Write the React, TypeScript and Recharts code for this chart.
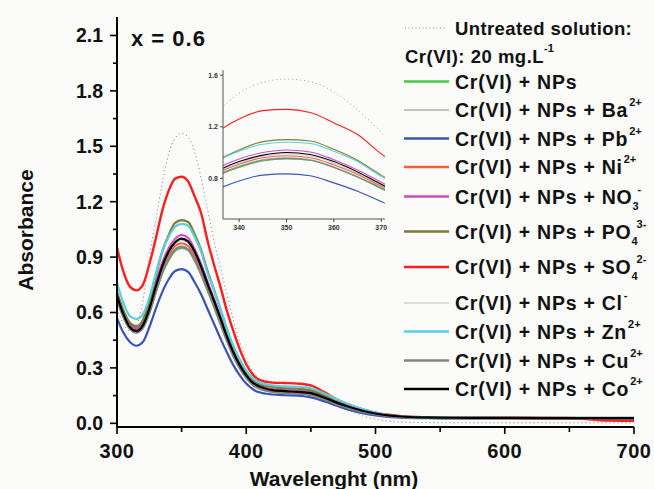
import React from "react";
import { LineChart, Line, XAxis, YAxis } from "recharts";

// wavelength grid (nm)
const wavelength = [300, 305, 310, 315, 320, 325, 330, 335, 340, 345, 350, 355, 360, 365, 370, 375, 380, 385, 390, 395, 400, 405, 410, 420, 430, 440, 450, 460, 470, 480, 490, 500, 510, 520, 540, 560, 600, 650, 680, 700];

// absorbance
const untreated = [0.62, 0.54, 0.5, 0.53, 0.66, 0.9, 1.1, 1.3, 1.46, 1.545, 1.57, 1.55, 1.47, 1.33, 1.16, 0.99, 0.84, 0.7, 0.56, 0.44, 0.35, 0.28, 0.245, 0.225, 0.22, 0.215, 0.2, 0.16, 0.11, 0.07, 0.04, 0.022, 0.012, 0.006, 0.004, 0.003, 0.003, 0.003, 0.003, 0.003];
const nps = [0.7, 0.59, 0.52, 0.505, 0.525, 0.6, 0.71, 0.815, 0.885, 0.935, 0.95, 0.94, 0.885, 0.81, 0.72, 0.635, 0.54, 0.45, 0.366, 0.3, 0.248, 0.21, 0.19, 0.172, 0.166, 0.163, 0.155, 0.133, 0.106, 0.083, 0.064, 0.05, 0.041, 0.035, 0.031, 0.029, 0.028, 0.028, 0.028, 0.028];
const ba = [0.66, 0.57, 0.51, 0.495, 0.52, 0.6, 0.715, 0.82, 0.895, 0.945, 0.96, 0.945, 0.89, 0.815, 0.73, 0.64, 0.545, 0.452, 0.368, 0.302, 0.25, 0.212, 0.192, 0.174, 0.168, 0.165, 0.157, 0.135, 0.107, 0.084, 0.065, 0.051, 0.041, 0.035, 0.031, 0.029, 0.028, 0.028, 0.028, 0.028];
const pb = [0.57, 0.49, 0.44, 0.42, 0.44, 0.52, 0.62, 0.71, 0.78, 0.825, 0.835, 0.82, 0.765, 0.7, 0.62, 0.54, 0.46, 0.385, 0.315, 0.26, 0.215, 0.185, 0.168, 0.156, 0.152, 0.15, 0.14, 0.12, 0.095, 0.072, 0.055, 0.043, 0.035, 0.031, 0.028, 0.027, 0.027, 0.026, 0.026, 0.026];
const ni = [0.68, 0.58, 0.515, 0.5, 0.525, 0.61, 0.725, 0.835, 0.91, 0.96, 0.975, 0.96, 0.905, 0.83, 0.74, 0.65, 0.555, 0.46, 0.375, 0.307, 0.254, 0.216, 0.196, 0.178, 0.172, 0.168, 0.16, 0.138, 0.11, 0.086, 0.066, 0.052, 0.042, 0.036, 0.031, 0.029, 0.028, 0.028, 0.028, 0.028];
const no3 = [0.7, 0.6, 0.535, 0.515, 0.545, 0.64, 0.76, 0.87, 0.95, 1.0, 1.02, 1.005, 0.945, 0.865, 0.77, 0.675, 0.58, 0.475, 0.39, 0.32, 0.265, 0.225, 0.205, 0.186, 0.18, 0.177, 0.169, 0.145, 0.116, 0.09, 0.07, 0.054, 0.043, 0.037, 0.032, 0.03, 0.029, 0.028, 0.028, 0.028];
const po4 = [0.71, 0.61, 0.545, 0.525, 0.56, 0.66, 0.8, 0.93, 1.02, 1.085, 1.1, 1.09, 1.025, 0.94, 0.825, 0.725, 0.62, 0.51, 0.415, 0.34, 0.28, 0.238, 0.215, 0.197, 0.19, 0.187, 0.178, 0.153, 0.122, 0.095, 0.073, 0.056, 0.044, 0.037, 0.032, 0.03, 0.029, 0.029, 0.029, 0.029];
const so4 = [0.95, 0.82, 0.74, 0.72, 0.75, 0.86, 1.0, 1.15, 1.26, 1.325, 1.335, 1.31, 1.23, 1.14, 0.99, 0.86, 0.74, 0.61, 0.5, 0.4, 0.32, 0.265, 0.235, 0.22, 0.218, 0.215, 0.205, 0.17, 0.13, 0.1, 0.075, 0.058, 0.046, 0.038, 0.032, 0.03, 0.03, 0.029, 0.015, 0.014];
const cl = [0.69, 0.59, 0.52, 0.505, 0.53, 0.615, 0.73, 0.84, 0.92, 0.97, 0.99, 0.975, 0.92, 0.84, 0.75, 0.66, 0.565, 0.468, 0.38, 0.312, 0.258, 0.22, 0.2, 0.181, 0.175, 0.171, 0.163, 0.14, 0.112, 0.087, 0.067, 0.052, 0.042, 0.036, 0.031, 0.029, 0.028, 0.028, 0.028, 0.028];
const zn = [0.76, 0.65, 0.58, 0.565, 0.59, 0.68, 0.81, 0.93, 1.01, 1.065, 1.08, 1.07, 1.01, 0.93, 0.815, 0.72, 0.62, 0.51, 0.42, 0.345, 0.285, 0.245, 0.222, 0.205, 0.2, 0.198, 0.19, 0.163, 0.13, 0.1, 0.077, 0.058, 0.045, 0.038, 0.033, 0.031, 0.03, 0.03, 0.03, 0.03];
const cu = [0.67, 0.575, 0.51, 0.49, 0.515, 0.595, 0.71, 0.815, 0.89, 0.94, 0.955, 0.94, 0.885, 0.81, 0.725, 0.635, 0.54, 0.448, 0.364, 0.298, 0.246, 0.208, 0.188, 0.17, 0.164, 0.161, 0.153, 0.131, 0.104, 0.081, 0.062, 0.049, 0.039, 0.033, 0.029, 0.027, 0.026, 0.026, 0.026, 0.026];
const co = [0.69, 0.59, 0.52, 0.5, 0.53, 0.62, 0.74, 0.85, 0.93, 0.98, 1.0, 0.985, 0.93, 0.85, 0.755, 0.665, 0.57, 0.47, 0.385, 0.315, 0.26, 0.22, 0.2, 0.18, 0.174, 0.17, 0.163, 0.14, 0.112, 0.088, 0.068, 0.053, 0.043, 0.037, 0.032, 0.03, 0.029, 0.028, 0.028, 0.028];

const yTicks = [0, 0.15, 0.3, 0.45, 0.6, 0.75, 0.9, 1.05, 1.2, 1.35, 1.5, 1.65, 1.8, 1.95, 2.1];
const xTicks = [300, 350, 400, 450, 500, 550, 600, 650, 700];
const insetYTicks = [0.8, 1.2, 1.6];
const insetXTicks = [340, 350, 360, 370];

const rows = wavelength.map((w, i) => ({
  w,
  untreated: untreated[i],
  nps: nps[i],
  ba: ba[i],
  pb: pb[i],
  ni: ni[i],
  no3: no3[i],
  po4: po4[i],
  so4: so4[i],
  cl: cl[i],
  zn: zn[i],
  cu: cu[i],
  co: co[i],
}));

type Series = { key: string; label: string; sub?: string; sup?: string; color: string; width: number };

const series: Series[] = [
  { key: "nps", label: "Cr(VI) + NPs", color: "#4ec34a", width: 2.2 },
  { key: "ba", label: "Cr(VI) + NPs + Ba", sup: "2+", color: "#8a8a8a", width: 1 },
  { key: "pb", label: "Cr(VI) + NPs + Pb", sup: "2+", color: "#3b54b3", width: 2.2 },
  { key: "ni", label: "Cr(VI) + NPs + Ni", sup: "2+", color: "#f0603e", width: 2 },
  { key: "no3", label: "Cr(VI) + NPs + NO", sub: "3", sup: "-", color: "#c84fc6", width: 2 },
  { key: "po4", label: "Cr(VI) + NPs + PO", sub: "4", sup: "3-", color: "#7e7d34", width: 2.2 },
  { key: "so4", label: "Cr(VI) + NPs + SO", sub: "4", sup: "2-", color: "#ff1f1f", width: 2.4 },
  { key: "cl", label: "Cr(VI) + NPs + Cl", sup: "-", color: "#bdbdbd", width: 1 },
  { key: "zn", label: "Cr(VI) + NPs + Zn", sup: "2+", color: "#5ccfdc", width: 2.2 },
  { key: "cu", label: "Cr(VI) + NPs + Cu", sup: "2+", color: "#858585", width: 2.2 },
  { key: "co", label: "Cr(VI) + NPs + Co", sup: "2+", color: "#000000", width: 2.2 },
];

const legendY = [81.5, 110, 138.5, 167, 196.5, 231.5, 267, 303, 331.5, 360.5, 389];

const FONT = "'Liberation Sans', Arial, Helvetica, sans-serif";

const MainYTick = (props: any) => {
  const { x, y, payload } = props;
  const v = payload.value;
  const major = Math.abs(v * 10 - Math.round(v * 10 / 3) * 3) < 1e-6;
  return (
    <g>
      <line x1={x} x2={x - (major ? 7 : 4)} y1={y} y2={y} stroke="#000" strokeWidth={1.6} />
      {major && (
        <text x={x - 14} y={y + 7} textAnchor="end" fontSize={19.5} fontWeight="bold" fontFamily={FONT} fill="#111">
          {v.toFixed(1)}
        </text>
      )}
    </g>
  );
};

const MainXTick = (props: any) => {
  const { x, y, payload } = props;
  const v = payload.value;
  const major = v % 100 === 0;
  return (
    <g>
      <line x1={x} x2={x} y1={y} y2={y + (major ? 7 : 5)} stroke="#000" strokeWidth={1.6} />
      {major && (
        <text x={x} y={y + 31} textAnchor="middle" fontSize={20} fontWeight="bold" fontFamily={FONT} fill="#111" letterSpacing={0.5}>
          {v}
        </text>
      )}
    </g>
  );
};

const InsetYTick = (props: any) => {
  const { x, y, payload } = props;
  return (
    <g>
      <line x1={x} x2={x - 3} y1={y} y2={y} stroke="#444" strokeWidth={1} />
      <text x={x - 5} y={y + 2.5} textAnchor="end" fontSize={7} fontWeight="bold" fontFamily={FONT} fill="#333">
        {payload.value.toFixed(1)}
      </text>
    </g>
  );
};

const InsetXTick = (props: any) => {
  const { x, y, payload } = props;
  return (
    <g>
      <line x1={x} x2={x} y1={y} y2={y + 3} stroke="#444" strokeWidth={1} />
      <text x={x} y={y + 11} textAnchor="middle" fontSize={7} fontWeight="bold" fontFamily={FONT} fill="#333">
        {payload.value}
      </text>
    </g>
  );
};

const LegendText = ({ x, y, s }: { x: number; y: number; s: Series }) => (
  <text x={x} y={y + 7} fontSize={19.5} fontWeight="bold" fontFamily={FONT} fill="#111" letterSpacing={0.75}>
    {s.label}
    {s.sub && (
      <tspan fontSize={11} letterSpacing={0} dy={6}>
        {s.sub}
      </tspan>
    )}
    {s.sup && (
      <tspan fontSize={11} letterSpacing={0} dx={s.sub ? -1 : 1} dy={s.sub ? -17 : -11}>
        {s.sup}
      </tspan>
    )}
  </text>
);

export default function App() {
  return (
    <div style={{ position: "fixed", left: 0, top: 0, width: 654, height: 489, background: "#fbfbf9" }}>
      <LineChart width={654} height={489} data={rows} margin={{ top: 17, right: 20, left: 57, bottom: 22 }}>
        <XAxis
          dataKey="w"
          type="number"
          domain={[300, 700]}
          ticks={xTicks}
          interval={0}
          height={40}
          tickSize={0}
          tickMargin={0}
          tick={<MainXTick />}
          axisLine={{ stroke: "#000", strokeWidth: 2 }}
        />
        <XAxis xAxisId="top" dataKey="w" type="number" domain={[300, 700]} orientation="top" height={0} tick={false} tickLine={false} axisLine={{ stroke: "#000", strokeWidth: 2 }} />
        <YAxis
          type="number"
          domain={[-0.02, 2.2]}
          ticks={yTicks}
          interval={0}
          width={60}
          tickSize={0}
          tickMargin={0}
          tick={<MainYTick />}
          axisLine={{ stroke: "#000", strokeWidth: 2 }}
        />
        <YAxis yAxisId="right" type="number" domain={[-0.02, 2.2]} orientation="right" width={0} tick={false} tickLine={false} axisLine={{ stroke: "#000", strokeWidth: 1.5 }} />
        <Line dataKey="untreated" type="monotone" stroke="#777" strokeWidth={1} strokeDasharray="1 3" dot={false} isAnimationActive={false} />
        {series.map((s) => (
          <Line key={s.key} dataKey={s.key} type="monotone" stroke={s.color} strokeWidth={s.width} dot={false} isAnimationActive={false} />
        ))}
      </LineChart>

      <div style={{ position: "absolute", left: 190, top: 62, width: 210, height: 172 }}>
        <LineChart width={210} height={172} data={rows} margin={{ top: 8, right: 15, left: 0, bottom: 0 }}>
          <XAxis
            dataKey="w"
            type="number"
            domain={[336.6, 370.8]}
            allowDataOverflow
            ticks={insetXTicks}
            interval={0}
            height={15}
            tickSize={0}
            tickMargin={0}
            tick={<InsetXTick />}
            axisLine={{ stroke: "#555", strokeWidth: 1 }}
          />
          <XAxis xAxisId="top" dataKey="w" type="number" domain={[336.6, 370.8]} orientation="top" height={0} tick={false} tickLine={false} axisLine={{ stroke: "#666", strokeWidth: 1 }} />
          <YAxis
            type="number"
            domain={[0.485, 1.64]}
            allowDataOverflow
            ticks={insetYTicks}
            interval={0}
            width={33}
            tickSize={0}
            tickMargin={0}
            tick={<InsetYTick />}
            axisLine={{ stroke: "#555", strokeWidth: 1 }}
          />
          <YAxis yAxisId="right" type="number" domain={[0.485, 1.64]} orientation="right" width={0} tick={false} tickLine={false} axisLine={{ stroke: "#666", strokeWidth: 1 }} />
          <Line dataKey="untreated" type="monotone" stroke="#888" strokeWidth={0.8} strokeDasharray="1 3" dot={false} isAnimationActive={false} />
          {series.map((s) => (
            <Line key={s.key} dataKey={s.key} type="monotone" stroke={s.color} strokeWidth={s.width > 1.5 ? 1.1 : 0.7} dot={false} isAnimationActive={false} />
          ))}
        </LineChart>
      </div>

      <svg width={654} height={489} style={{ position: "absolute", left: 0, top: 0, pointerEvents: "none" }}>
        <text x={131} y={46} fontSize={22} fontWeight="bold" fontFamily={FONT} fill="#111" letterSpacing={1}>
          x = 0.6
        </text>
        <line x1={405} x2={447} y1={28} y2={28} stroke="#888" strokeWidth={1} strokeDasharray="1 2.5" />
        <text x={455} y={35} fontSize={18.5} fontWeight="bold" fontFamily={FONT} fill="#111" letterSpacing={0.4}>
          Untreated solution:
        </text>
        <text x={405} y={63} fontSize={18.5} fontWeight="bold" fontFamily={FONT} fill="#111" letterSpacing={0.5}>
          Cr(VI): 20 mg.L
          <tspan fontSize={11} letterSpacing={0} dy={-11}>-1</tspan>
        </text>
        {series.map((s, i) => (
          <g key={s.key}>
            <line x1={404} x2={449} y1={legendY[i]} y2={legendY[i]} stroke={s.color} strokeWidth={s.width > 1.5 ? 2.4 : 1.2} />
            <LegendText x={455} y={legendY[i]} s={s} />
          </g>
        ))}
        <text x={334} y={486} textAnchor="middle" fontSize={21} fontWeight="bold" fontFamily={FONT} fill="#111">
          Wavelenght (nm)
        </text>
        <text transform="translate(33,230) rotate(-90)" textAnchor="middle" fontSize={21} fontWeight="bold" fontFamily={FONT} fill="#111">
          Absorbance
        </text>
      </svg>
    </div>
  );
}
